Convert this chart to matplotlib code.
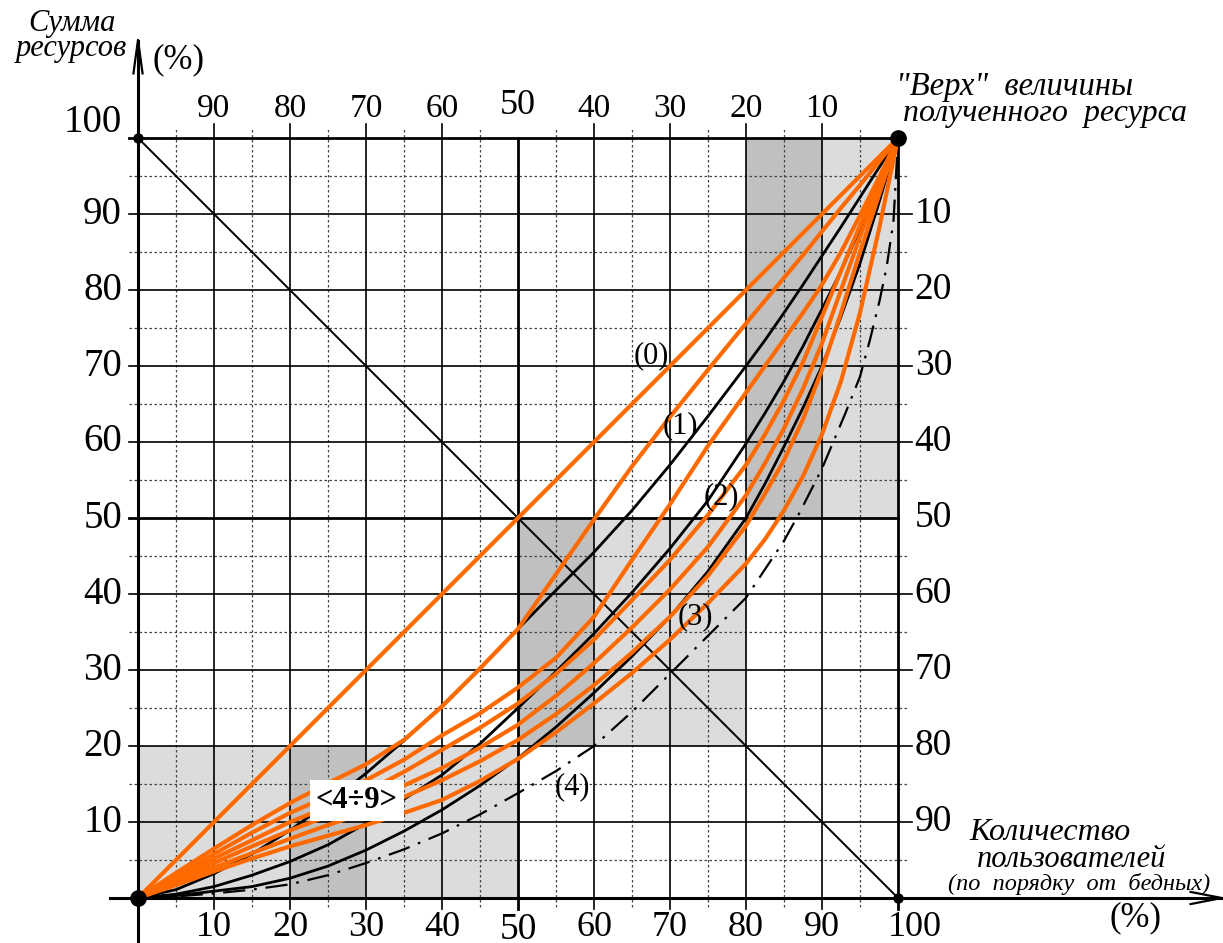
import numpy as np
import matplotlib.pyplot as plt

# ---------------------------------------------------------------------------
# data (x = users %, y = resources %)
# ---------------------------------------------------------------------------
xs = [0, 5, 10, 15, 20, 25, 30, 35, 40, 45, 50, 55, 60, 65, 70, 75, 80,
      82.5, 85, 87.5, 90, 92.5, 95, 97.5, 100]

curve1 = [0, 1.1, 3.2, 5.8, 8.9, 12.5, 16.4, 20.7, 25.3, 30.2, 35.4, 40.5, 45.5, 51, 57, 63.4, 70,
          73.4, 77, 80.7, 84.5, 88.3, 92.2, 96.1, 100]
curve2 = [0, 0.5, 1.5, 3, 4.8, 7, 9.8, 13, 16.2, 20.3, 25, 29.8, 34.8, 40.2, 46, 52.3, 59.8,
          63.8, 68, 72.6, 77.5, 82.5, 88, 93.8, 100]
curve3 = [0, 0.3, 0.9, 1.5, 2.6, 4.2, 6.3, 8.8, 11.6, 14.8, 18.4, 22.5, 27, 31.8, 37, 43, 50,
          54.5, 59.4, 64.5, 70, 76.5, 83.5, 91.5, 100]

x4 = [0, 5, 10, 15, 20, 25, 30, 35, 40, 45, 50, 55, 60, 65, 70, 75, 80, 85, 87, 90, 93, 95,
      96.3, 97.6, 98.5, 99.4, 99.7, 100]
curve4 = [0, 0.2, 0.6, 1.1, 1.8, 3, 4.6, 6.4, 8.5, 11, 13.8, 16.7, 20, 24.5, 29.5, 34.5, 39.5,
          47, 50.6, 56.5, 63.6, 68.6, 73.4, 78.7, 83, 89, 94.3, 100]

# orange curves <4÷9>
orange = [
    [0, 3.3, 6.5, 9.6, 12.5, 15.1, 17.6, 20.8, 25.2, 30.2, 35.4, 42.6, 49.8, 56.8, 63.3, 69.5, 75.6,
     78.6, 81.6, 84.6, 87.7, 90.8, 93.8, 96.9, 100],
    [0, 2.9, 5.8, 8.6, 11.2, 13.4, 15.5, 18.2, 21.4, 24.3, 27.7, 31.6, 37, 44.5, 51.8, 59.5, 66.5,
     70, 73.5, 77, 80.7, 85, 89.8, 94.8, 100],
    [0, 2.6, 5.2, 7.6, 10, 12, 14, 16.6, 19.5, 22.4, 25.6, 29.5, 34, 39.2, 44.5, 50.4, 57,
     61, 65.5, 70.5, 76.5, 82.5, 88.5, 94.3, 100],
    [0, 2.3, 4.6, 6.8, 8.9, 10.8, 12.6, 14.8, 17.1, 19.8, 22.8, 26.6, 30.9, 35.6, 40.6, 46.2, 53,
     57.2, 61.8, 67, 73, 80, 87, 93.5, 100],
    [0, 2, 4, 5.9, 7.8, 9.6, 11.3, 13.3, 15.5, 18, 20.8, 24.2, 28, 32.3, 37, 42.4, 49,
     53.2, 57.6, 63, 69.5, 77, 85, 92.5, 100],
    [0, 1.7, 3.5, 5.2, 6.8, 8.2, 9.6, 11.2, 12.9, 15.4, 18.3, 21.8, 25.6, 29.6, 34, 38.8, 44,
     47.2, 51, 55.5, 61, 68, 77, 88, 100],
]

# shaded cells: (x0, x1, y0, y1, shade)
light, dark = "#dcdcdc", "#c0c0c0"
cells = [
    (0, 50, 0, 20, light), (20, 30, 0, 20, dark),
    (50, 80, 20, 50, light), (50, 60, 20, 50, dark),
    (80, 100, 50, 100, light), (80, 90, 50, 100, dark),
]

ticks = [10, 20, 30, 40, 60, 70, 80, 90]
curve_labels = {"(0)": (67.6, 71.4), "(1)": (71.3, 62.2), "(2)": (76.8, 52.8),
                "(3)": (73.3, 37.0), "(4)": (57.1, 14.6)}

ORANGE = "#ff6a00"
serif = "Liberation Serif"

# ---------------------------------------------------------------------------
fig = plt.figure(figsize=(12.23, 9.43), dpi=100)
ax = fig.add_axes([0, 0, 1, 1])
ax.set_xlim(-138 / 7.6, (1223 - 138) / 7.6)
ax.set_ylim((898 - 943) / 7.6, 898 / 7.6)
ax.axis("off")

for x0, x1, y0, y1, c in cells:
    ax.fill_between([x0, x1], y0, y1, color=c, lw=0, zorder=0)

# dotted minor grid
for v in range(5, 100, 10):
    ax.plot([-1.2, 101.5], [v, v], color="#444444", lw=0.9, ls=(0, (2, 2)), zorder=1)
    ax.plot([v, v], [-1.2, 101.5], color="#444444", lw=0.9, ls=(0, (2, 2)), zorder=1)

# solid grid
for v in ticks:
    ax.plot([-1.2, 101.8], [v, v], color="black", lw=1.2, zorder=2)
    ax.plot([v, v], [-1.5, 101.8], color="black", lw=1.2, zorder=2)
for v in (50, 100):
    ax.plot([-1.2, 100], [v, v], color="black", lw=2.0, zorder=2)
    ax.plot([v, v], [-1.5, 100], color="black", lw=2.0, zorder=2)

# axes with arrows
ax.plot([0, 0], [-6, 112.8], color="black", lw=2.2, zorder=2)
ax.plot([-3.7, 142.5], [0, 0], color="black", lw=2.2, zorder=2)
ax.plot([-0.6, 0, 0.6], [108.5, 112.9, 108.5], color="black", lw=1.6, zorder=2)
ax.plot([138.5, 142.6, 138.5], [0.8, 0, -0.8], color="black", lw=1.6, zorder=2)

# anti-diagonal
ax.plot([0, 100], [100, 0], color="black", lw=1.4, zorder=3)

# black curves
for c in (curve1, curve2, curve3):
    ax.plot(xs, c, color="black", lw=2.0, zorder=3, solid_joinstyle="round")
ax.plot(x4, curve4, color="black", lw=1.6, ls=(0, (10, 4, 1.2, 4)), zorder=3)

# orange curves
ax.plot([0, 100], [0, 100], color=ORANGE, lw=3, zorder=4)
for c in orange:
    ax.plot(xs, c, color=ORANGE, lw=3, zorder=4, solid_joinstyle="round")

# corner dots
ax.plot([0, 100], [0, 100], "o", color="black", ms=11, zorder=5)
ax.plot([0, 100], [100, 0], "o", color="black", ms=6.5, zorder=5)

# tick labels
for v in ticks:
    ax.text(-2.1, v, str(v), ha="right", va="center", fontsize=28, family=serif)
    ax.text(102.2, v, str(100 - v), ha="left", va="center", fontsize=27, family=serif)
    ax.text(v, 103.9, str(100 - v), ha="center", va="center", fontsize=24, family=serif)
    ax.text(v, -3.9, str(v), ha="center", va="center", fontsize=26, family=serif)
ax.text(-2.1, 50, "50", ha="right", va="center", fontsize=28, family=serif)
ax.text(102.2, 50, "50", ha="left", va="center", fontsize=27, family=serif)
ax.text(50, 104.3, "50", ha="center", va="center", fontsize=26, family=serif)
ax.text(50, -4.2, "50", ha="center", va="center", fontsize=27, family=serif)
ax.text(-2.1, 102.1, "100", ha="right", va="center", fontsize=28, family=serif)
ax.text(102.2, -3.9, "100", ha="center", va="center", fontsize=26, family=serif)

# axis titles
ax.text(-8.7, 113.4, "Сумма\nресурсов", ha="center", va="center", fontsize=22,
        style="italic", family=serif, linespacing=0.8)
ax.text(5.3, 110.3, "(%)", ha="center", va="center", fontsize=25, family=serif)
ax.text(99.8, 106.7, "\"Верх\"  величины", ha="left", va="center", fontsize=23.5,
        style="italic", family=serif)
ax.text(100.7, 103.2, "полученного  ресурса", ha="left", va="center", fontsize=23,
        style="italic", family=serif)
ax.text(120.0, 8.6, "Количество", ha="center", va="center", fontsize=23,
        style="italic", family=serif)
ax.text(122.9, 5.1, "пользователей", ha="center", va="center", fontsize=22,
        style="italic", family=serif)
ax.text(123.8, 1.8, "(по  порядку  от  бедных)", ha="center", va="center", fontsize=17.5,
        style="italic", family=serif)
ax.text(131.2, -2.6, "(%)", ha="center", va="center", fontsize=25, family=serif)

for s, (lx, ly) in curve_labels.items():
    ax.text(lx, ly, s, ha="center", va="center", fontsize=22, family=serif, zorder=6)

ax.text(28.8, 12.8, "<4÷9>", ha="center", va="center", fontsize=22, weight="bold",
        family=serif, zorder=6,
        bbox=dict(boxstyle="square,pad=0.2", fc="white", ec="none"))

fig.savefig("out.png", dpi=100)
